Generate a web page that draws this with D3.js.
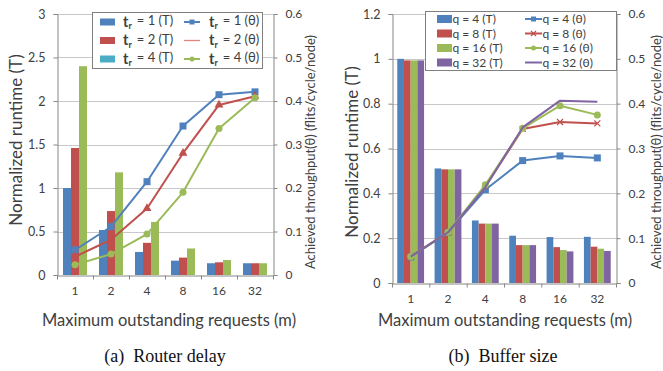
<!DOCTYPE html>
<html>
<head>
<meta charset="utf-8">
<script src="https://cdn.jsdelivr.net/npm/d3@7"></script>
<style>
  html, body { margin: 0; padding: 0; background: #fff; }
  svg { display: block; }
  text { font-family: Lato, "Open Sans", sans-serif; fill: #404040; }
  .caption { font-family: "Liberation Serif", "DejaVu Serif", serif; fill: #111; }
</style>
</head>
<body>
<svg id="chart" width="663" height="371"></svg>
<script>
// Shared x categories: maximum outstanding requests (m)
const mValues = ["1", "2", "4", "8", "16", "32"];

// Panel (a): router delay, normalized runtime (T)
const tr1Runtime = [1.0, 0.517, 0.265, 0.165, 0.135, 0.135];
const tr2Runtime = [1.46, 0.735, 0.37, 0.2, 0.146, 0.135];
const tr4Runtime = [2.4, 1.18, 0.61, 0.305, 0.172, 0.135];
// Panel (a): achieved throughput (θ)
const tr1Throughput = [0.0575, 0.111, 0.2145, 0.3425, 0.4145, 0.421];
const tr2Throughput = [0.042, 0.081, 0.153, 0.28, 0.391, 0.411];
const tr4Throughput = [0.0235, 0.048, 0.094, 0.19, 0.337, 0.4076];

// Panel (b): buffer size, normalized runtime (T)
const q4Runtime = [1.0, 0.511, 0.279, 0.211, 0.205, 0.206];
const q8Runtime = [0.993, 0.507, 0.265, 0.169, 0.16, 0.162];
const q16Runtime = [0.993, 0.507, 0.265, 0.169, 0.147, 0.153];
const q32Runtime = [0.993, 0.507, 0.265, 0.169, 0.141, 0.143];
// Panel (b): achieved throughput (θ)
const q4Throughput = [0.058, 0.113, 0.208, 0.273, 0.2835, 0.279];
const q8Throughput = [0.059, 0.113, 0.215, 0.3437, 0.359, 0.356];
const q16Throughput = [0.059, 0.113, 0.219, 0.345, 0.3955, 0.375];
const q32Throughput = [0.059, 0.113, 0.214, 0.347, 0.4067, 0.404];

// Axis tick values
const runtimeTicksA = [0, 0.5, 1, 1.5, 2, 2.5, 3];
const runtimeTicksB = [0, 0.2, 0.4, 0.6, 0.8, 1, 1.2];
const throughputTicks = [0, 0.1, 0.2, 0.3, 0.4, 0.5, 0.6];

const COLORS = { blue: "#4f81bd", red: "#c0504d", green: "#9bbb59", purple: "#8064a2", teal: "#4bacc6" };
const AXIS = "#868686", GRID = "#c8c8c8";

const svg = d3.select("#chart");

function drawPanel(cfg) {
  const g = svg.append("g");
  const { left, right, top, bottom } = cfg.area;

  const x = d3.scaleBand().domain(mValues).range([left, right]).padding(0);
  const inner = d3.scaleBand().domain(cfg.bars.map(b => b.key))
    .range([0, x.bandwidth()]).paddingInner(0).paddingOuter(cfg.barPad);
  const yL = d3.scaleLinear().domain([0, cfg.runtimeMax]).range([bottom, top]);
  const yR = d3.scaleLinear().domain([0, 0.6]).range([bottom, top]);

  // horizontal gridlines
  g.append("g").selectAll("line").data(cfg.runtimeTicks.slice(1)).join("line")
    .attr("x1", left).attr("x2", right)
    .attr("y1", d => Math.round(yL(d)) + 0.5).attr("y2", d => Math.round(yL(d)) + 0.5)
    .attr("stroke", GRID).attr("stroke-width", 1);

  // bars
  cfg.bars.forEach(b => {
    g.append("g").selectAll("rect").data(b.values).join("rect")
      .attr("x", (d, i) => x(mValues[i]) + inner(b.key))
      .attr("width", inner.bandwidth())
      .attr("y", d => yL(d))
      .attr("height", d => yL(0) - yL(d))
      .attr("fill", b.color);
  });

  // left axis
  const axL = g.append("g").attr("transform", `translate(${left + 0.5},0)`)
    .call(d3.axisLeft(yL).tickValues(cfg.runtimeTicks).tickSize(4).tickPadding(cfg.leftPad)
      .tickFormat(d3.format("~g")));
  // right axis
  const axR = g.append("g").attr("transform", `translate(${right + 0.5},0)`)
    .call(d3.axisRight(yR).tickValues(throughputTicks).tickSize(4).tickPadding(cfg.rightPad)
      .tickFormat(d3.format("~g")));
  // bottom axis with ticks at category boundaries
  const axB = g.append("g").attr("transform", `translate(0,${bottom + 0.5})`)
    .call(d3.axisBottom(x).tickSize(0).tickPadding(cfg.bottomPad));
  axB.append("g").selectAll("line").data(d3.range(mValues.length + 1)).join("line")
    .attr("x1", i => left + i * x.step() + 0.5).attr("x2", i => left + i * x.step() + 0.5)
    .attr("y1", 0).attr("y2", 4).attr("stroke", AXIS);

  [axL, axR, axB].forEach(a => {
    a.select(".domain").attr("stroke", AXIS);
    a.selectAll(".tick line").attr("stroke", AXIS);
    a.selectAll("text").attr("font-family", "Lato, sans-serif").attr("fill", "#404040");
  });
  axL.selectAll("text").attr("font-size", 12.5);
  axR.selectAll("text").attr("font-size", 12);
  axB.selectAll("text").attr("font-size", 12);

  // throughput lines
  const line = d3.line().x((d, i) => x(mValues[i]) + x.bandwidth() / 2).y(d => yR(d));
  cfg.lines.forEach(s => {
    g.append("path").datum(s.values).attr("d", line)
      .attr("fill", "none").attr("stroke", s.color).attr("stroke-width", 2)
      .attr("stroke-linejoin", "round");
    const pts = g.append("g").selectAll("g").data(s.values).join("g")
      .attr("transform", (d, i) => `translate(${x(mValues[i]) + x.bandwidth() / 2},${yR(d)})`);
    drawMarker(pts, s.marker, s.color, s.markerSize);
  });

  // axis titles
  g.append("text").attr("transform", `translate(${cfg.leftTitle.x},${cfg.leftTitle.y}) rotate(-90)`)
    .attr("text-anchor", "middle").attr("dominant-baseline", "central")
    .attr("font-size", cfg.leftTitle.size).text("Normalized runtime (T)");
  g.append("text").attr("transform", `translate(${cfg.rightTitle.x},${cfg.rightTitle.y}) rotate(-90)`)
    .attr("text-anchor", "middle").attr("dominant-baseline", "central")
    .attr("font-size", cfg.rightTitle.size).text("Achieved throughput(θ) (flits/cycle/node)");
  g.append("text").attr("x", cfg.xTitle.x).attr("y", cfg.xTitle.y)
    .attr("text-anchor", "middle").attr("font-size", cfg.xTitle.size)
    .text("Maximum outstanding requests (m)");
  const cap = g.append("text").attr("class", "caption").attr("x", cfg.caption.x).attr("y", cfg.caption.y)
    .attr("text-anchor", "middle").attr("font-size", 18);
  cap.append("tspan").text(cfg.caption.tag);
  cap.append("tspan").attr("dx", 9).text(cfg.caption.text);

  return g;
}

function drawMarker(sel, type, color, size) {
  const s = size || 6;
  if (type === "square") {
    sel.append("rect").attr("x", -s / 2).attr("y", -s / 2).attr("width", s).attr("height", s)
      .attr("fill", color);
  } else if (type === "circle") {
    sel.append("circle").attr("r", s / 2).attr("fill", color);
  } else if (type === "triangle") {
    sel.append("path").attr("d", d3.symbol(d3.symbolTriangle, s * s * 0.7)()).attr("fill", color);
  } else if (type === "cross") {
    sel.append("path").attr("d", `M${-s / 2},${-s / 2}L${s / 2},${s / 2}M${-s / 2},${s / 2}L${s / 2},${-s / 2}`)
      .attr("stroke", color).attr("stroke-width", 1.2).attr("fill", "none");
  }
}

// Panel (a)
drawPanel({
  area: { left: 57, right: 273, top: 14, bottom: 275 },
  runtimeMax: 3, runtimeTicks: runtimeTicksA, barPad: 0.75,
  leftPad: 8, rightPad: 8, bottomPad: 11,
  bars: [
    { key: "tr1", values: tr1Runtime, color: COLORS.blue },
    { key: "tr2", values: tr2Runtime, color: COLORS.red },
    { key: "tr4", values: tr4Runtime, color: COLORS.green }
  ],
  lines: [
    { values: tr1Throughput, color: COLORS.blue, marker: "square", markerSize: 7 },
    { values: tr2Throughput, color: COLORS.red, marker: "triangle", markerSize: 7 },
    { values: tr4Throughput, color: COLORS.green, marker: "circle", markerSize: 7 }
  ],
  leftTitle: { x: 15, y: 140, size: 17 },
  rightTitle: { x: 310, y: 152, size: 13 },
  xTitle: { x: 169, y: 326, size: 16.5 },
  caption: { x: 165, y: 362, tag: "(a)", text: "Router delay" }
});

// Panel (b)
drawPanel({
  area: { left: 392, right: 616, top: 14, bottom: 283 },
  runtimeMax: 1.2, runtimeTicks: runtimeTicksB, barPad: 0.785,
  leftPad: 8, rightPad: 8, bottomPad: 11,
  bars: [
    { key: "q4", values: q4Runtime, color: COLORS.blue },
    { key: "q8", values: q8Runtime, color: COLORS.red },
    { key: "q16", values: q16Runtime, color: COLORS.green },
    { key: "q32", values: q32Runtime, color: COLORS.purple }
  ],
  lines: [
    { values: q4Throughput, color: COLORS.blue, marker: "square", markerSize: 7 },
    { values: q8Throughput, color: COLORS.red, marker: "cross", markerSize: 6 },
    { values: q16Throughput, color: COLORS.green, marker: "circle", markerSize: 7 },
    { values: q32Throughput, color: COLORS.purple, marker: "none" }
  ],
  leftTitle: { x: 351, y: 152, size: 17 },
  rightTitle: { x: 656, y: 152, size: 13 },
  xTitle: { x: 505, y: 326, size: 16.5 },
  caption: { x: 503, y: 362, tag: "(b)", text: "Buffer size" }
});

// Legend for panel (a)
(function () {
  const g = svg.append("g");
  g.append("rect").attr("x", 92.5).attr("y", 12.5).attr("width", 170).attr("height", 56)
    .attr("fill", "#fff").attr("stroke", "#7f7f7f");
  const items = [
    { label: "= 1 (T)", color: COLORS.blue, kind: "bar" },
    { label: "= 2 (T)", color: COLORS.red, kind: "bar" },
    { label: "= 4 (T)", color: COLORS.teal, kind: "bar" },
    { label: "= 1 (θ)", color: COLORS.blue, kind: "line", marker: "square" },
    { label: "= 2 (θ)", color: "#e8827f", kind: "line", marker: "none" },
    { label: "= 4 (θ)", color: COLORS.green, kind: "line", marker: "circle" }
  ];
  const rowY = [22, 40.5, 59];
  items.forEach((it, i) => {
    const col = Math.floor(i / 3), row = i % 3;
    const cy = rowY[row];
    const sx = col === 0 ? 100 : 184;
    if (it.kind === "bar") {
      g.append("rect").attr("x", sx).attr("y", cy - 3.5).attr("width", 15).attr("height", 7).attr("fill", it.color);
    } else {
      g.append("line").attr("x1", sx).attr("x2", sx + 16).attr("y1", cy).attr("y2", cy)
        .attr("stroke", it.color).attr("stroke-width", it.marker === "none" ? 1.3 : 2);
      const m = g.append("g").attr("transform", `translate(${sx + 8},${cy})`);
      drawMarker(m, it.marker, it.color, 5);
    }
    const t = g.append("text").attr("x", col === 0 ? 123 : 209).attr("y", cy).attr("dy", "0.35em")
      .attr("font-size", 13).attr("fill", "#262626");
    t.append("tspan").attr("font-weight", "bold").attr("font-size", 14.5).text("t");
    t.append("tspan").attr("font-weight", "bold").attr("font-size", 9).attr("dy", "0.3em").text("r");
    t.append("tspan").attr("dy", "-0.3em").attr("dx", 5).text(it.label);
  });
})();

// Legend for panel (b)
(function () {
  const g = svg.append("g");
  g.append("rect").attr("x", 425.5).attr("y", 11.5).attr("width", 191).attr("height", 59)
    .attr("fill", "#fff").attr("stroke", "#7f7f7f");
  const qs = ["4", "8", "16", "32"];
  const cols = [COLORS.blue, COLORS.red, COLORS.green, COLORS.purple];
  const marks = ["square", "cross", "circle", "none"];
  const rowY = [19, 33.5, 48, 62.5];
  qs.forEach((q, i) => {
    const cy = rowY[i];
    g.append("rect").attr("x", 437).attr("y", cy - 4).attr("width", 15).attr("height", 8).attr("fill", cols[i]);
    g.append("text").attr("x", 452.5).attr("y", cy).attr("dy", "0.35em").attr("font-size", 12)
      .attr("fill", "#262626").text(`q = ${q} (T)`);
    g.append("line").attr("x1", 525).attr("x2", 542).attr("y1", cy).attr("y2", cy)
      .attr("stroke", cols[i]).attr("stroke-width", 2);
    const m = g.append("g").attr("transform", `translate(${533.5},${cy})`);
    drawMarker(m, marks[i], cols[i], 5);
    g.append("text").attr("x", 542.5).attr("y", cy).attr("dy", "0.35em").attr("font-size", 12)
      .attr("fill", "#262626").text(`q = ${q} (θ)`);
  });
})();
</script>
</body>
</html>
